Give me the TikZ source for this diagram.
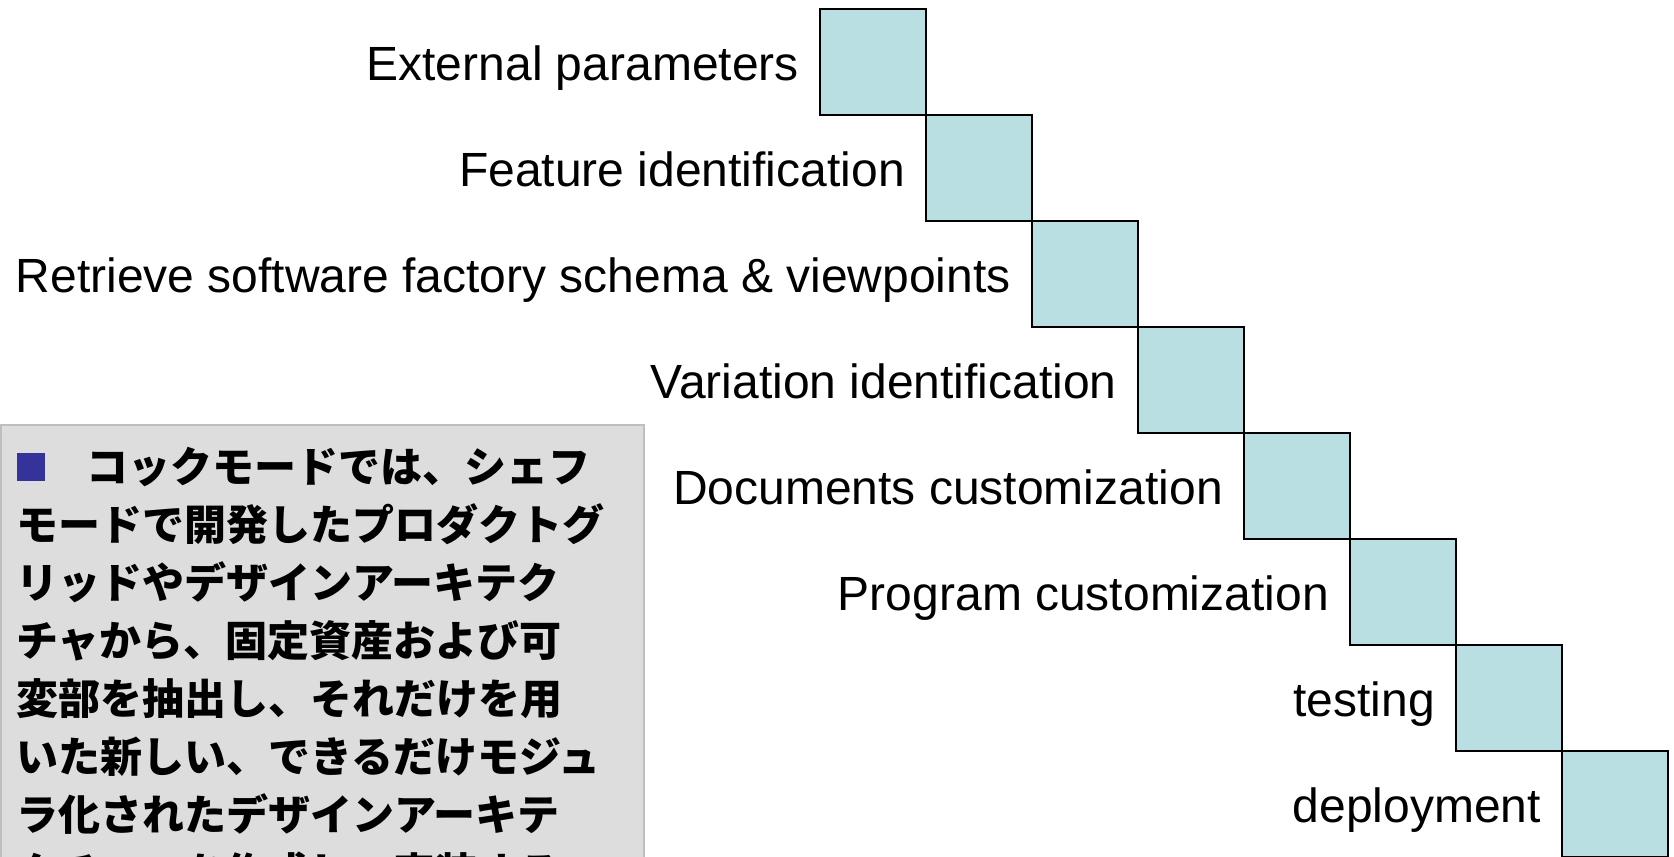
\documentclass[tikz,border=0pt]{standalone}
\usepackage{fontspec}
\setmainfont{Liberation Sans}
\newfontfamily\jpfont{Noto Sans CJK JP}
\definecolor{stepfill}{RGB}{186,223,227}
\definecolor{notefill}{RGB}{221,221,221}
\definecolor{noteline}{RGB}{190,190,190}
\definecolor{bulletblue}{RGB}{51,51,153}
\tikzset{
  stepbox/.style={draw=black, line width=2pt, fill=stepfill, minimum size=106pt, inner sep=0pt, outer sep=0pt},
  steplabel/.style={anchor=base east, inner sep=0pt, font=\fontsize{48}{48}\selectfont},
  noteline/.style={anchor=base west, inner sep=0pt, font=\jpfont\bfseries\fontsize{42}{58}\selectfont},
}
\begin{document}
\begin{tikzpicture}[x=1pt,y=-1pt]
\clip (0,0) rectangle (1674,857);
% staircase of process steps
\foreach \i/\txt in {0/External parameters, 1/Feature identification, 2/Retrieve software factory schema \& viewpoints, 3/Variation identification, 4/Documents customization, 5/Program customization, 6/testing, 7/deployment}{
  \node[stepbox] (s\i) at ({873+106*\i},{62.3+106*\i}) {};
  \node[steplabel] (l\i) at ([xshift=-21pt,yshift=-18.5pt]s\i.west) {\txt};
}
% note box
\node[draw=noteline, line width=2pt, fill=notefill, anchor=north west, minimum width=643pt, minimum height=460pt, inner sep=0pt] (note) at (0,424) {};
\node[fill=bulletblue, minimum size=28pt, inner sep=0pt, anchor=north west] (bullet) at (17,453) {};
\node[noteline] (n0) at (86,482) {コックモードでは、シェフ};
\node[noteline] (n1) at (16,540) {モードで開発したプロダクトグ};
\node[noteline] (n2) at (16,598) {リッドやデザインアーキテク};
\node[noteline] (n3) at (16,656) {チャから、固定資産および可};
\node[noteline] (n4) at (16,714) {変部を抽出し、それだけを用};
\node[noteline] (n5) at (16,772) {いた新しい、できるだけモジュ};
\node[noteline] (n6) at (16,830) {ラ化されたデザインアーキテ};
\node[noteline] (n7) at (16,888) {クチャーを作成し、実装する};
\end{tikzpicture}
\end{document}
